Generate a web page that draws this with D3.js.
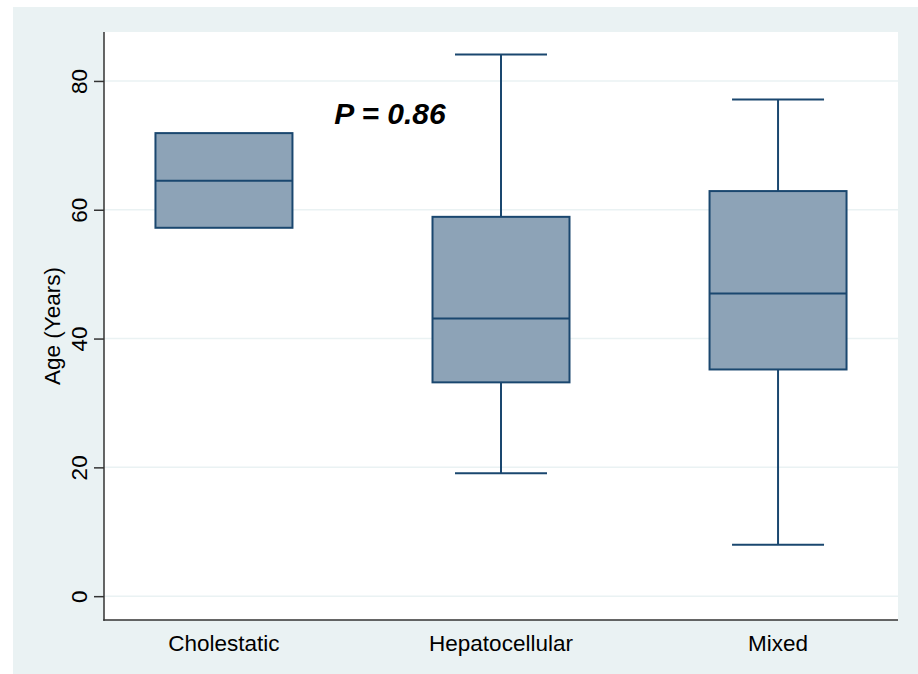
<!DOCTYPE html>
<html>
<head>
<meta charset="utf-8">
<script src="https://cdn.jsdelivr.net/npm/d3@7"></script>
<style>
  html, body { margin: 0; padding: 0; background: #ffffff; }
  svg { display: block; }
  text { font-family: "Liberation Sans", Arial, sans-serif; fill: #000; }
</style>
</head>
<body>
<svg id="chart" width="918" height="674"></svg>
<script>
const categories = ["Cholestatic", "Hepatocellular", "Mixed"];
const whiskerLow  = [57.2, 19.1, 8.0];
const q1          = [57.2, 33.2, 35.2];
const medians     = [64.5, 43.1, 47.0];
const q3          = [71.9, 58.9, 62.9];
const whiskerHigh = [71.9, 84.1, 77.1];
const yTicks = [0, 20, 40, 60, 80];
const yTitle = "Age (Years)";
const annotation = "P = 0.86";

const svg = d3.select("#chart");
const W = 918, H = 674;
const plot = { left: 104, right: 898, top: 32, bottom: 620 };

// outer background
svg.append("rect").attr("x", 13).attr("y", 7).attr("width", W - 13).attr("height", H - 7)
  .attr("fill", "#EAF2F3");
// plot region
svg.append("rect").attr("x", plot.left).attr("y", plot.top)
  .attr("width", plot.right - plot.left).attr("height", plot.bottom - plot.top)
  .attr("fill", "#ffffff");

const y = d3.scaleLinear().domain([-3.7, 87.6]).range([plot.bottom, plot.top]);
const x = d3.scalePoint().domain(categories).range([plot.left, plot.right]).padding(0.433);

// gridlines
svg.append("g").selectAll("line").data(yTicks).join("line")
  .attr("x1", plot.left).attr("x2", plot.right)
  .attr("y1", d => y(d)).attr("y2", d => y(d))
  .attr("stroke", "#EAF2F3").attr("stroke-width", 1.5);

// y axis
const yAxis = svg.append("g").attr("transform", `translate(${plot.left},0)`)
  .call(d3.axisLeft(y).tickValues(yTicks).tickSize(10).tickPadding(0).tickFormat(d3.format("d")));
yAxis.select(".domain").remove();
yAxis.selectAll(".tick line").attr("stroke", "#333").attr("stroke-width", 1.5);
yAxis.selectAll(".tick text").remove();
yAxis.selectAll(".tick").append("text")
  .attr("transform", "translate(-17,0) rotate(-90)")
  .attr("text-anchor", "middle")
  .attr("dy", "0")
  .style("font-size", "22.5px")
  .attr("fill", "#000")
  .text(d => d);

// axis lines
svg.append("line").attr("x1", plot.left).attr("x2", plot.left)
  .attr("y1", plot.top).attr("y2", plot.bottom + 0.75)
  .attr("stroke", "#333").attr("stroke-width", 1.5);
svg.append("line").attr("x1", plot.left - 0.75).attr("x2", plot.right)
  .attr("y1", plot.bottom).attr("y2", plot.bottom)
  .attr("stroke", "#333").attr("stroke-width", 1.5);

// x labels
svg.append("g").selectAll("text").data(categories).join("text")
  .attr("x", d => x(d)).attr("y", 651)
  .attr("text-anchor", "middle")
  .style("font-size", "22.5px")
  .text(d => d);

// y title
svg.append("text")
  .attr("transform", `translate(60,${(plot.top + plot.bottom) / 2}) rotate(-90)`)
  .attr("text-anchor", "middle")
  .style("font-size", "22.5px")
  .text(yTitle);

// boxes
const boxW = 137, capW = 92;
const stroke = "#1A476F", fill = "#8DA3B7";
const data = categories.map((c, i) => ({
  c, lo: whiskerLow[i], q1: q1[i], med: medians[i], q3: q3[i], hi: whiskerHigh[i]
}));
const g = svg.append("g");
data.forEach(d => {
  const cx = x(d.c);
  // whiskers
  if (d.hi > d.q3) {
    g.append("line").attr("x1", cx).attr("x2", cx).attr("y1", y(d.q3)).attr("y2", y(d.hi))
      .attr("stroke", stroke).attr("stroke-width", 2);
    g.append("line").attr("x1", cx - capW / 2).attr("x2", cx + capW / 2).attr("y1", y(d.hi)).attr("y2", y(d.hi))
      .attr("stroke", stroke).attr("stroke-width", 2);
  }
  if (d.lo < d.q1) {
    g.append("line").attr("x1", cx).attr("x2", cx).attr("y1", y(d.q1)).attr("y2", y(d.lo))
      .attr("stroke", stroke).attr("stroke-width", 2);
    g.append("line").attr("x1", cx - capW / 2).attr("x2", cx + capW / 2).attr("y1", y(d.lo)).attr("y2", y(d.lo))
      .attr("stroke", stroke).attr("stroke-width", 2);
  }
  g.append("rect").attr("x", cx - boxW / 2).attr("y", y(d.q3))
    .attr("width", boxW).attr("height", y(d.q1) - y(d.q3))
    .attr("fill", fill).attr("stroke", stroke).attr("stroke-width", 2);
  g.append("line").attr("x1", cx - boxW / 2).attr("x2", cx + boxW / 2)
    .attr("y1", y(d.med)).attr("y2", y(d.med))
    .attr("stroke", stroke).attr("stroke-width", 2);
});

// annotation
svg.append("text").attr("x", 390).attr("y", 124)
  .attr("text-anchor", "middle")
  .style("font-size", "30px").style("font-weight", "bold").style("font-style", "italic")
  .text(annotation);
</script>
</body>
</html>
